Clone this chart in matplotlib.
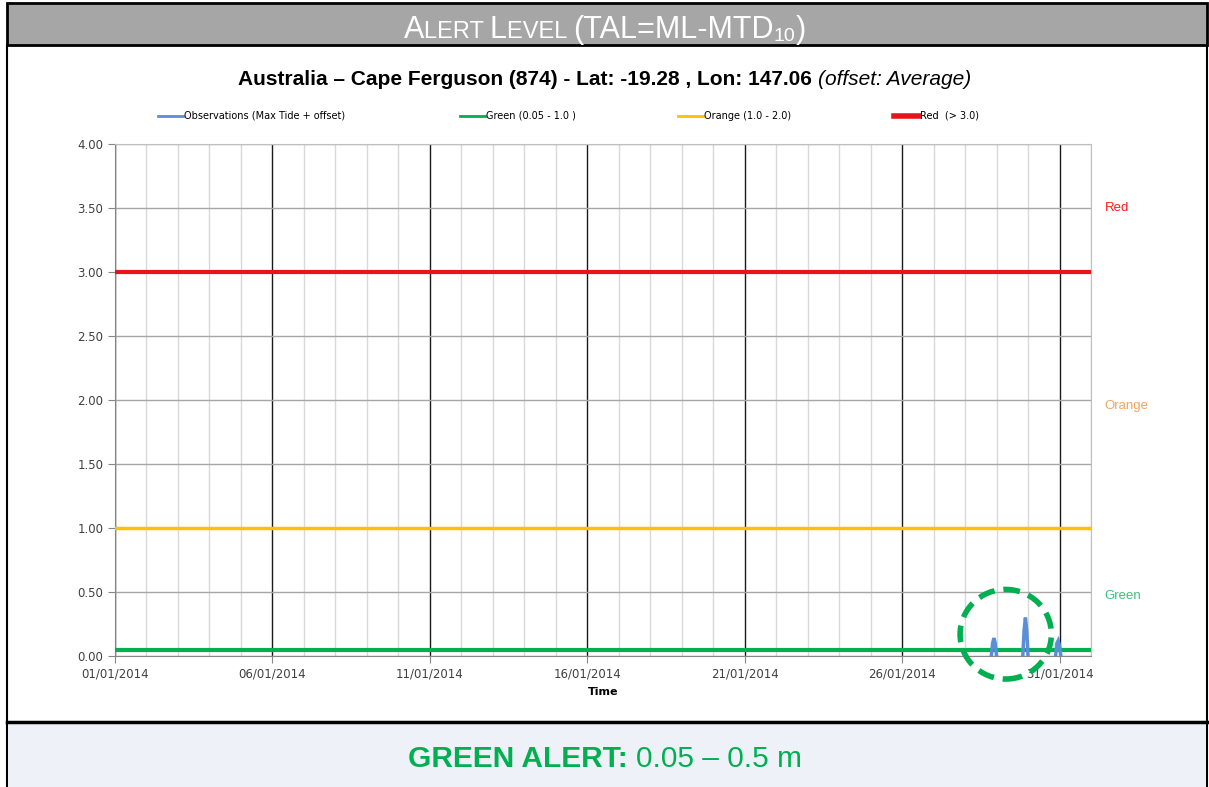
#!/usr/bin/env python3
import pandas as pd
import numpy as np
import matplotlib
matplotlib.use('Agg')
import matplotlib.pyplot as plt
import matplotlib.dates as mdates
from matplotlib.patches import Rectangle, Ellipse
from matplotlib.lines import Line2D

# ---- data ----
obs_times = ['2014-01-28 20:00', '2014-01-28 21:00', '2014-01-28 22:00', '2014-01-28 23:00', '2014-01-29 00:00',
             '2014-01-29 20:00', '2014-01-29 21:00', '2014-01-29 22:00', '2014-01-29 23:00', '2014-01-30 00:00',
             '2014-01-30 21:00', '2014-01-30 22:00', '2014-01-30 23:00', '2014-01-31 00:00', '2014-01-31 01:00']
obs_values = [0.0, 0.10, 0.14, 0.10, 0.0,
              0.0, 0.20, 0.30, 0.20, 0.0,
              0.0, 0.10, 0.12, 0.08, 0.0]
level_names = ['Green', 'Orange', 'Red']
level_values = [0.05, 1.0, 3.0]
level_label_y = [0.47, 1.95, 3.5]
legend_labels = ['Observations (Max Tide + offset)', 'Green (0.05 - 1.0 )', 'Orange (1.0 - 2.0)', 'Red  (> 3.0)']
x_ticks = ['2014-01-01', '2014-01-06', '2014-01-11', '2014-01-16', '2014-01-21', '2014-01-26', '2014-01-31']
x_start = '2014-01-01'
x_end = '2014-02-01'

W, H = 1209, 787
BLUE = '#5a8ed6'
GREEN = '#00b050'
ORANGE = '#ffc000'
RED = '#e8141c'


def fx(px):
    return px / W


def fy(py):
    return 1 - py / H


fig = plt.figure(figsize=(W / 100, H / 100), dpi=100)

# frame / bands
fig.patches.append(Rectangle((fx(7), fy(790)), fx(1200), (790 - 45) / H, transform=fig.transFigure,
                             facecolor='white', edgecolor='black', linewidth=1.5, zorder=-2))
fig.patches.append(Rectangle((fx(7), fy(45)), fx(1200), 42 / H, transform=fig.transFigure,
                             facecolor='#a6a6a6', edgecolor='black', linewidth=2, zorder=-1))
fig.patches.append(Rectangle((fx(8), fy(787)), fx(1198), 64 / H, transform=fig.transFigure,
                             facecolor='#eef2f8', edgecolor='none', zorder=-1))
fig.add_artist(Line2D([fx(7), fx(1207)], [fy(722), fy(722)], color='black', linewidth=2.5,
                      transform=fig.transFigure))


def draw_runs(runs, cy, cx=W / 2):
    renderer = fig.canvas.get_renderer()
    texts = []
    total = 0
    for s, kw, dy in runs:
        t = fig.text(0, 0, s, **kw)
        w = t.get_window_extent(renderer).width
        texts.append((t, w, dy))
        total += w
    x = cx - total / 2
    for t, w, dy in texts:
        t.set_position((fx(x), fy(cy + dy)))
        t.set_va('baseline')
        x += w


hdr = dict(color='white', fontfamily='Liberation Sans')
runs = [('A', dict(fontsize=22, **hdr), 0), ('LERT ', dict(fontsize=17, **hdr), 0),
        ('L', dict(fontsize=22, **hdr), 0), ('EVEL ', dict(fontsize=17, **hdr), 0),
        ('(TAL=ML-MTD', dict(fontsize=22, **hdr), 0), ('10', dict(fontsize=14, **hdr), 3),
        (')', dict(fontsize=22, **hdr), 0)]
draw_runs(runs, 38)

draw_runs([('Australia \u2013 Cape Ferguson (874) - Lat: -19.28 , Lon: 147.06 ',
            dict(fontsize=15, fontweight='bold', fontfamily='Liberation Sans', color='black'), 0),
           ('(offset: Average)', dict(fontsize=15, fontstyle='italic', fontfamily='Liberation Sans', color='black'), 0)],
          85)

draw_runs([('GREEN ALERT: ', dict(fontsize=21.5, fontweight='bold', fontfamily='Liberation Sans', color=GREEN), 0),
           ('0.05 \u2013 0.5 m', dict(fontsize=21.5, fontfamily='Liberation Sans', color=GREEN), 0)], 767)

# ---- chart ----
ax = fig.add_axes([fx(115), fy(656), fx(1091 - 115), (656 - 144) / H])
t = pd.to_datetime(obs_times)
obs = pd.Series(obs_values, index=t)
# break line between separate events
segments = [obs.iloc[0:5], obs.iloc[5:10], obs.iloc[10:15]]
for seg in segments:
    ax.plot(seg.index, seg.values, color=BLUE, linewidth=2.5, solid_joinstyle='miter', zorder=4)

ax.axhline(level_values[0], color=GREEN, linewidth=3, zorder=3)
ax.axhline(level_values[1], color=ORANGE, linewidth=2.5, zorder=3)
ax.axhline(level_values[2], color=RED, linewidth=3, zorder=3)

ax.set_xlim(pd.Timestamp(x_start), pd.Timestamp(x_end))
ax.set_ylim(0, 4)
ax.set_yticks(np.arange(0, 4.01, 0.5))
ax.yaxis.set_major_formatter(matplotlib.ticker.FormatStrFormatter('%.2f'))
ax.set_xticks(pd.to_datetime(x_ticks))
ax.xaxis.set_minor_locator(mdates.DayLocator())
ax.xaxis.set_major_formatter(mdates.DateFormatter('%d/%m/%Y'))

ax.grid(True, which='major', axis='y', color='#a6a6a6', linewidth=1)
ax.grid(True, which='minor', axis='x', color='#d9d9d9', linewidth=1)
ax.grid(True, which='major', axis='x', color='#1a1a1a', linewidth=1)
ax.set_axisbelow(True)
ax.tick_params(axis='both', which='major', labelsize=8.5, labelcolor='#404040', color='#868686',
               length=5, direction='out')
ax.tick_params(axis='x', which='minor', length=0)
ax.tick_params(axis='x', pad=3)
for s in ['top', 'right']:
    ax.spines[s].set_color('#bfbfbf')
for s in ['left', 'bottom']:
    ax.spines[s].set_color('#868686')
ax.set_xlabel('Time', fontsize=8, fontweight='bold', labelpad=5)

label_colors = ['#3cc07a', '#f4a460', '#ff1a1a']
for name, yv, c in zip(level_names, level_label_y, label_colors):
    ax.text(1.014, yv, name, transform=ax.get_yaxis_transform(), color=c, fontsize=9.5,
            fontfamily='Liberation Sans', va='center', ha='left')

# highlight circle round the observations
ax.add_patch(Ellipse((mdates.date2num(pd.Timestamp('2014-01-29 07:00')), 0.17), 2.9, 0.70,
                     fill=False, edgecolor=GREEN, linewidth=4, linestyle=(0, (3, 1.6)),
                     clip_on=False, zorder=5))

# legend entries
handles = [Line2D([], [], color=BLUE, linewidth=2),
           Line2D([], [], color=GREEN, linewidth=2),
           Line2D([], [], color=ORANGE, linewidth=2),
           Line2D([], [], color=RED, linewidth=4)]
starts = [158, 460, 678, 894]
for h, lab, xs in zip(handles, legend_labels, starts):
    fig.legend([h], [lab], loc='center left', bbox_to_anchor=(fx(xs), fy(116)), frameon=False,
               fontsize=7, handlelength=2.6, handletextpad=0.1, borderpad=0, borderaxespad=0)

fig.savefig('out.png', dpi=100)
